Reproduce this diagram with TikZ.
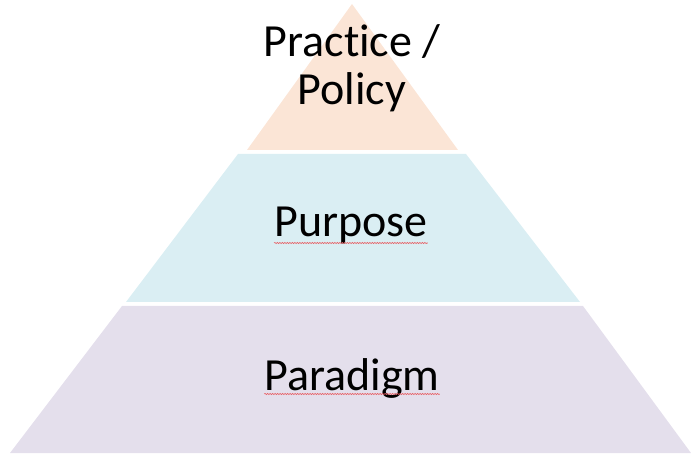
\documentclass[tikz,border=0pt]{standalone}
\usepackage{fontspec}
\setmainfont{Carlito}[Ligatures=NoCommon]
\usetikzlibrary{decorations.pathmorphing}
\definecolor{peach}{HTML}{FBE5D6}
\definecolor{paleblue}{HTML}{DAEEF3}
\definecolor{lavender}{HTML}{E4DFEC}
\definecolor{spellred}{HTML}{E8595E}

\begin{document}
\begin{tikzpicture}[x=1pt,y=-1pt,
  tier/.style={font=\fontsize{46}{48}\selectfont,align=center,inner sep=0pt,anchor=base},
  squiggle/.style={spellred,line width=0.6pt,decorate,decoration={snake,amplitude=0.6pt,segment length=2.5pt}}]
\useasboundingbox (0,0) rectangle (691,454);
% the three layers
\fill[peach] (352,4) -- (458,150) -- (247,150) -- cycle;
\fill[paleblue] (238,154) -- (466,154) -- (580,302) -- (126,302) -- cycle;
\fill[lavender] (122,306) -- (583,306) -- (691,453) -- (10,453) -- cycle;
% labels
\node[tier] (practice) at (352,105) {Practice /\\Policy};
\node[tier] (purpose) at (351,237) {Purpose};
\node[tier] (paradigm) at (352,391) {Paradigm};
\draw[squiggle] ([yshift=-6pt]purpose.base west) -- ([yshift=-6pt]purpose.base east);
\draw[squiggle] ([yshift=-3pt]paradigm.base west) -- ([yshift=-3pt]paradigm.base east);
\end{tikzpicture}
\end{document}
